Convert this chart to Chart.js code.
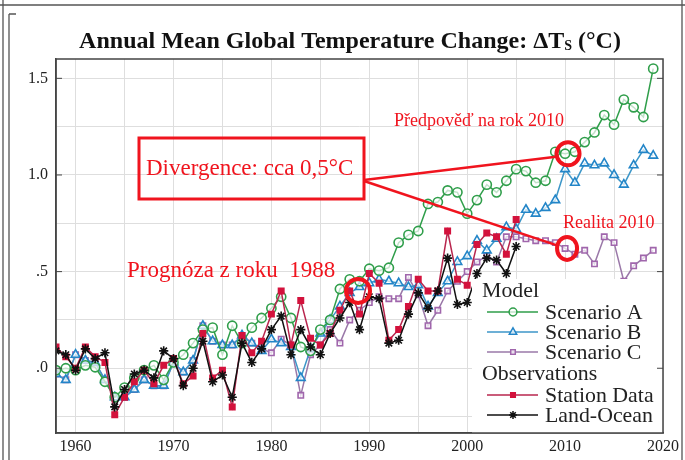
<!DOCTYPE html>
<html>
<head>
<meta charset="utf-8">
<script src="https://cdn.jsdelivr.net/npm/chart.js@4"></script>
<style>
body { margin: 0; background: #fff; }
canvas { display: block; }
</style>
</head>
<body>
<canvas id="chart" width="685" height="460"></canvas>
<script>
const years = [
  1958, 1959, 1960, 1961, 1962, 1963, 1964, 1965, 1966, 1967, 1968, 1969,
  1970, 1971, 1972, 1973, 1974, 1975, 1976, 1977, 1978, 1979,
  1980, 1981, 1982, 1983, 1984, 1985, 1986, 1987, 1988, 1989,
  1990, 1991, 1992, 1993, 1994, 1995, 1996, 1997, 1998, 1999,
  2000, 2001, 2002, 2003, 2004, 2005, 2006, 2007, 2008, 2009,
  2010, 2011, 2012, 2013, 2014, 2015, 2016, 2017, 2018, 2019
];

const scenarioA = [
  -0.01, 0.0, -0.01, 0.015, 0.005, -0.07, -0.15, -0.1, -0.05, -0.01, 0.015, -0.06,
  0.03, 0.07, 0.13, 0.2, 0.21, 0.07, 0.22, 0.13, 0.21, 0.26,
  0.31, 0.37, 0.26, 0.11, 0.09, 0.2, 0.25, 0.41, 0.46, 0.45,
  0.515, 0.505, 0.52, 0.65, 0.69, 0.71, 0.85, 0.86, 0.92, 0.91,
  0.8, 0.87, 0.95, 0.91, 0.97, 1.03, 1.02, 0.96, 0.97, 1.12,
  1.11, 1.12, 1.17, 1.22, 1.31, 1.26, 1.39, 1.35, 1.3, 1.55
];

const scenarioB = [
  -0.03, -0.06, 0.07, 0.04, 0.03, -0.06, -0.15, -0.15, -0.11, -0.06, -0.09, -0.09,
  0.03, -0.02, 0.04, 0.22, 0.14, 0.12, 0.12, 0.17, 0.13, 0.09,
  0.15, 0.13, 0.11, -0.05, 0.1, 0.18, 0.25, 0.32, 0.39, 0.42,
  0.44, 0.46, 0.45, 0.44, 0.42, 0.43, 0.32, 0.39, 0.45, 0.55,
  0.58, 0.66, 0.61, 0.67, 0.73, 0.72, 0.82, 0.8, 0.83, 0.87,
  1.03, 0.96, 1.06, 1.05, 1.06, 1.0, 0.95, 1.05, 1.13, 1.1
];

const scenarioC = [
  -0.03, -0.06, 0.07, 0.04, 0.03, -0.06, -0.15, -0.15, -0.11, -0.06, -0.09, -0.09,
  0.03, -0.02, 0.04, 0.22, 0.14, 0.12, 0.12, 0.17, 0.13, 0.1,
  0.08, 0.15, 0.12, -0.14, 0.07, 0.12, 0.2, 0.13, 0.25, 0.3,
  0.34, 0.37, 0.36, 0.36, 0.47, 0.38, 0.22, 0.3, 0.4, 0.45,
  0.5, 0.55, 0.58, 0.55, 0.68, 0.68, 0.67, 0.66, 0.66, 0.65,
  0.62, 0.59, 0.61, 0.54, 0.68, 0.65, 0.45, 0.53, 0.57, 0.61
];

// observations run 1958-2005
const stationData = [
  0.11, 0.06, 0.0, 0.11, 0.06, 0.03, -0.24, -0.15, -0.07, -0.01, -0.08, 0.015,
  0.05, -0.08, -0.04, 0.18, -0.05, -0.01, -0.2, 0.17, 0.08, 0.14,
  0.28, 0.4, 0.12, 0.35, 0.155, 0.12, 0.18, 0.3, 0.4, 0.28,
  0.49, 0.44, 0.145, 0.2, 0.32, 0.46, 0.4, 0.4, 0.71, 0.46,
  0.43, 0.64, 0.7, 0.68, 0.59, 0.77
];

const landOcean = [
  0.09, 0.07, -0.01, 0.1, 0.05, 0.08, -0.2, -0.11, -0.03, -0.01, -0.05, 0.09,
  0.05, -0.09, 0.0, 0.14, -0.07, -0.035, -0.15, 0.13, 0.03, 0.1,
  0.2, 0.27, 0.07, 0.2, 0.11, 0.07, 0.18, 0.26, 0.34, 0.2,
  0.37, 0.36, 0.13, 0.145, 0.28, 0.39, 0.31, 0.4, 0.57, 0.33,
  0.34, 0.49, 0.57, 0.56, 0.49, 0.63
];

const SERIF = '"Liberation Serif", "Times New Roman", serif';
const RED = '#f0141e';

const colA = '#2f9e4a';
const colB = '#2285c8';
const colC = '#a066ac';
const colSt = '#d3123c';
const colLO = '#111111';

function pts(vals) {
  return vals.map((v, i) => ({ x: years[i], y: v }));
}

const seriesStyle = [
  { label: 'Scenario A', color: colA, line: colA, style: 'circle', r: 4.6, fill: 'rgba(255,255,255,0.7)', order: 3 },
  { label: 'Scenario B', color: colB, line: '#3c96c8', style: 'triangle', r: 5, fill: 'rgba(255,255,255,0.7)', order: 4 },
  { label: 'Scenario C', color: colC, line: '#9a78a8', style: 'rect', r: 3.8, fill: 'rgba(255,255,255,0.7)', order: 5 },
  { label: 'Station Data', color: colSt, line: '#b8264e', style: 'rect', r: 3.8, fill: colSt, order: 2 },
  { label: 'Land-Ocean', color: colLO, line: colLO, style: 'star', r: 4.6, fill: colLO, order: 1 }
];
const seriesVals = [scenarioA, scenarioB, scenarioC, stationData, landOcean];

const datasets = seriesStyle.map((s, i) => ({
  label: s.label,
  data: pts(seriesVals[i]),
  borderColor: s.line,
  borderWidth: 1.5,
  pointStyle: s.style,
  pointRadius: s.r,
  pointBorderColor: s.color,
  pointBackgroundColor: s.fill,
  pointBorderWidth: 1.6,
  tension: 0,
  order: s.order
}));

const decor = {
  id: 'decor',
  beforeDraw(chart) {
    const ctx = chart.ctx;
    ctx.save();
    ctx.fillStyle = '#fff';
    ctx.fillRect(0, 0, chart.width, chart.height);
    ctx.strokeStyle = '#555';
    ctx.lineWidth = 1.3;
    ctx.beginPath();
    ctx.moveTo(0, 5); ctx.lineTo(685, 5);
    ctx.moveTo(3, 0); ctx.lineTo(3, 460);
    ctx.moveTo(9, 14); ctx.lineTo(9, 460);
    ctx.moveTo(9, 14); ctx.lineTo(16, 14);
    ctx.moveTo(682, 0); ctx.lineTo(682, 460);
    ctx.stroke();
    ctx.restore();
  },
  afterDatasetsDraw(chart) {
    const ctx = chart.ctx;
    const a = chart.chartArea;
    const xs = chart.scales.x, ys = chart.scales.y;
    ctx.save();

    // legend box (text a little stretched like the scan)
    ctx.fillStyle = '#fff';
    ctx.fillRect(472, 279, a.right - 472, a.bottom - 279);
    ctx.font = '21px ' + SERIF;
    ctx.textBaseline = 'middle';
    ctx.textAlign = 'left';
    const label = (txt, x, y) => {
      ctx.save();
      ctx.translate(x, y);
      ctx.scale(1.04, 1);
      ctx.fillStyle = '#222';
      ctx.fillText(txt, 0, 0);
      ctx.restore();
    };
    label('Model', 482, 291);
    label('Observations', 482, 374);
    const rows = [312, 332, 352, 395, 415];
    seriesStyle.forEach((s, i) => {
      const y = rows[i];
      ctx.strokeStyle = s.line;
      ctx.lineWidth = 1.4;
      ctx.beginPath();
      ctx.moveTo(487, y); ctx.lineTo(538, y);
      ctx.stroke();
      ctx.strokeStyle = s.color;
      ctx.fillStyle = s.fill;
      ctx.lineWidth = 1.5;
      Chart.helpers.drawPoint(ctx, { pointStyle: s.style, radius: s.r * 0.85, borderWidth: 1.5, rotation: 0 }, 513, y);
      label(s.label, 545, y + 1);
    });

    // plot frame and inward ticks
    ctx.strokeStyle = '#444';
    ctx.lineWidth = 1.5;
    ctx.strokeRect(a.left, a.top, a.right - a.left, a.bottom - a.top);
    ctx.lineWidth = 1;
    [0, 0.5, 1, 1.5].forEach(v => {
      const y = ys.getPixelForValue(v);
      ctx.beginPath();
      ctx.moveTo(a.left, y); ctx.lineTo(a.left + 6, y);
      ctx.moveTo(a.right, y); ctx.lineTo(a.right - 6, y);
      ctx.stroke();
    });

    // annotations
    ctx.strokeStyle = RED;
    ctx.fillStyle = RED;
    ctx.lineWidth = 3;
    ctx.strokeRect(139, 138, 225, 61);
    ctx.font = '23px ' + SERIF;
    ctx.fillText('Divergence: cca 0,5\u00B0C', 146, 169);
    ctx.fillText('Progn\u00F3za z roku  1988', 127, 271);
    ctx.font = '18px ' + SERIF;
    ctx.fillText('P\u0159edpov\u011B\u010F na rok 2010', 394, 121);
    ctx.fillText('Realita 2010', 563, 223);

    const cA = { x: xs.getPixelForValue(2010.3), y: ys.getPixelForValue(1.11) };
    const cR = { x: xs.getPixelForValue(2010.2), y: ys.getPixelForValue(0.62) };
    const c88 = { x: xs.getPixelForValue(1988.85), y: ys.getPixelForValue(0.4) };

    ctx.lineWidth = 2.4;
    ctx.beginPath();
    ctx.moveTo(364, 180); ctx.lineTo(cA.x - 12, cA.y + 3);
    ctx.moveTo(364, 181); ctx.lineTo(cR.x - 10, cR.y - 3);
    ctx.stroke();

    ctx.lineWidth = 4;
    ctx.beginPath();
    ctx.arc(c88.x, c88.y, 12, 0, Math.PI * 2);
    ctx.stroke();
    ctx.beginPath();
    ctx.arc(cA.x, cA.y, 11.5, 0, Math.PI * 2);
    ctx.stroke();
    ctx.beginPath();
    ctx.ellipse(cR.x, cR.y, 10, 11.5, 0, 0, Math.PI * 2);
    ctx.stroke();

    // title with subscript S
    ctx.fillStyle = '#111';
    ctx.textBaseline = 'alphabetic';
    const big = 'bold 24px ' + SERIF;
    const small = 'bold 14px ' + SERIF;
    const t1 = 'Annual Mean Global Temperature Change: \u0394T';
    const t2 = 'S';
    const t3 = ' (\u00B0C)';
    ctx.font = big;
    const w1 = ctx.measureText(t1).width, w3 = ctx.measureText(t3).width;
    ctx.font = small;
    const w2 = ctx.measureText(t2).width;
    let x = 350 - (w1 + w2 + w3) / 2;
    const base = 48;
    ctx.font = big;
    ctx.fillText(t1, x, base);
    x += w1;
    ctx.font = small;
    ctx.fillText(t2, x, base + 2);
    x += w2;
    ctx.font = big;
    ctx.fillText(t3, x, base);

    ctx.restore();
  }
};

new Chart(document.getElementById('chart'), {
  type: 'line',
  data: { datasets },
  options: {
    responsive: false,
    animation: false,
    layout: { padding: { top: 59, right: 22, left: 0, bottom: 0 } },
    plugins: { legend: { display: false }, tooltip: { enabled: false } },
    scales: {
      x: {
        type: 'linear',
        min: 1958,
        max: 2020,
        afterFit: s => { s.height = 27; },
        ticks: {
          stepSize: 5,
          includeBounds: false,
          autoSkip: false,
          maxRotation: 0,
          padding: 4,
          color: '#222',
          font: { family: SERIF, size: 16 },
          callback: v => (v % 10 === 0 ? String(v) : '')
        },
        grid: { color: '#dedede', drawTicks: false },
        border: { color: '#444', width: 1.5 }
      },
      y: {
        min: -0.335,
        max: 1.6,
        afterFit: s => { s.width = 56; },
        ticks: {
          stepSize: 0.25,
          includeBounds: false,
          padding: 8,
          color: '#222',
          font: { family: SERIF, size: 16 },
          callback: v => {
            if (Math.abs(v * 2 - Math.round(v * 2)) > 1e-6) return '';
            if (Math.abs(v) < 1e-6) return '.0';
            if (Math.abs(v - 0.5) < 1e-6) return '.5';
            return v.toFixed(1);
          }
        },
        grid: { color: '#dedede', drawTicks: false },
        border: { color: '#444', width: 1.5 }
      }
    }
  },
  plugins: [decor]
});
</script>
</body>
</html>
